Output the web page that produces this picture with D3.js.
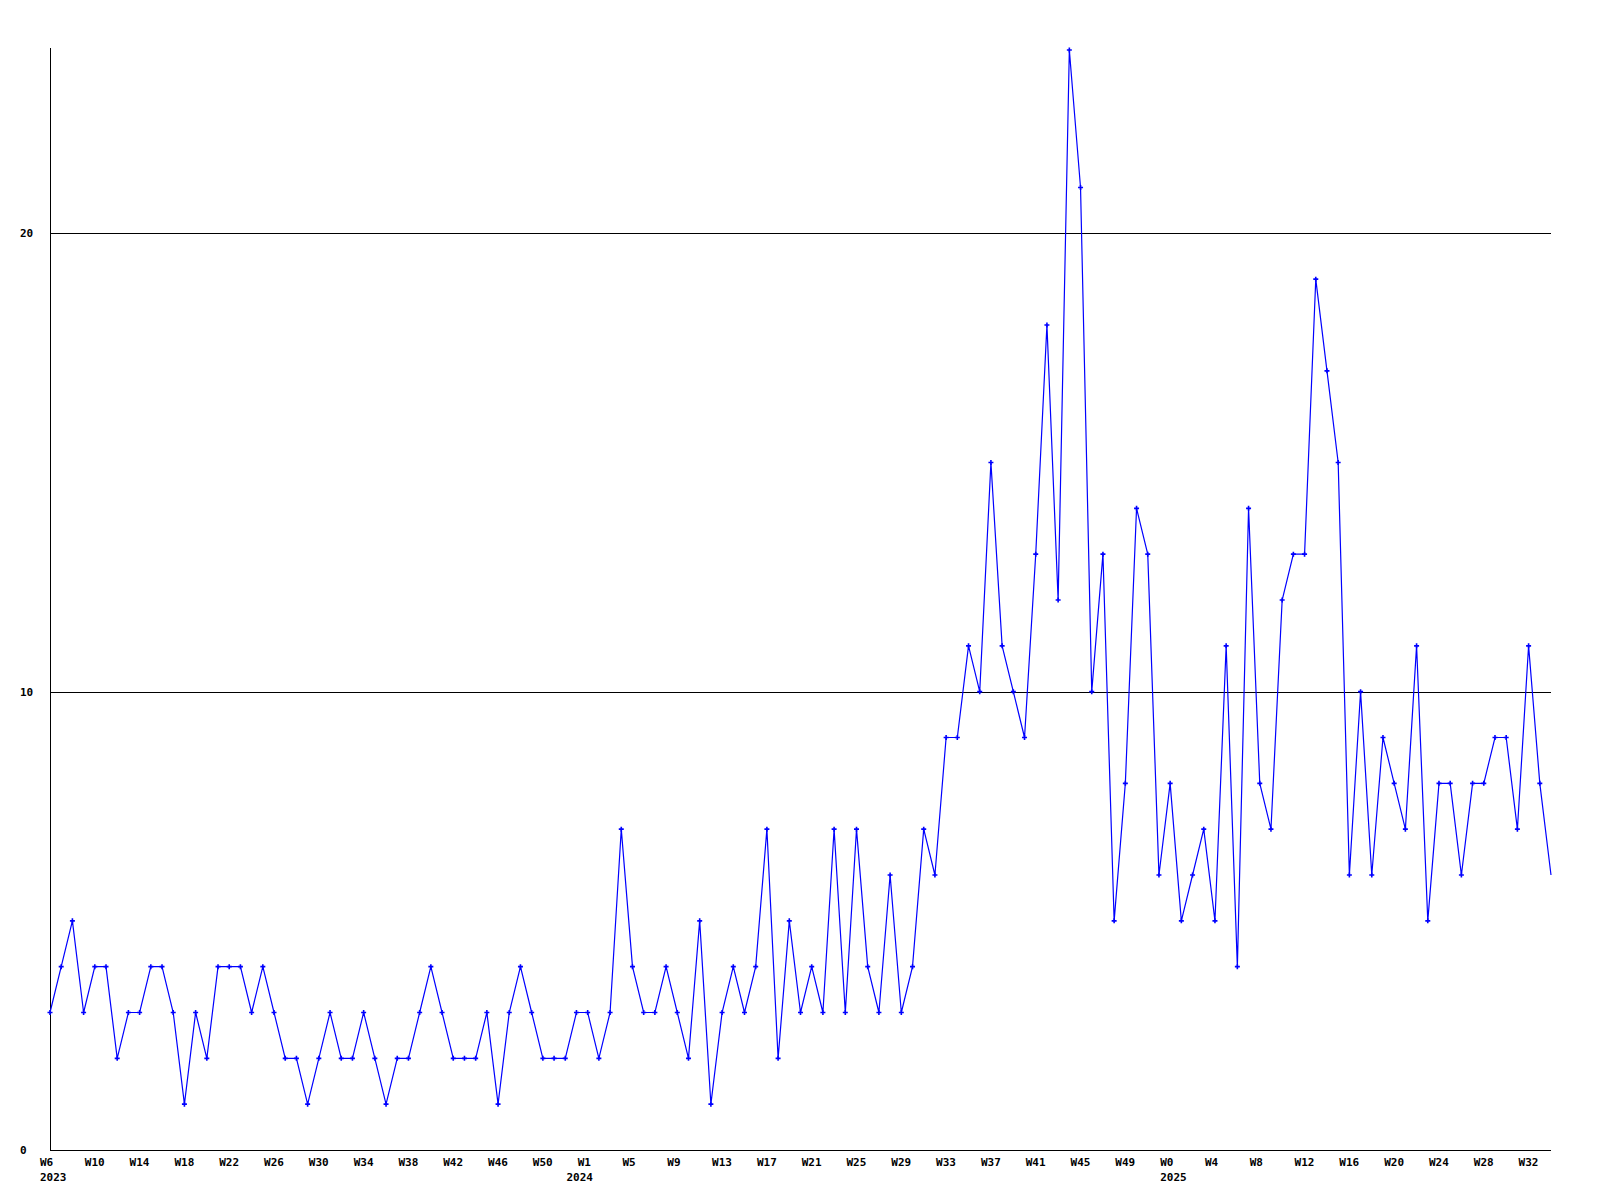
<!DOCTYPE html>
<html>
<head>
<meta charset="utf-8">
<script src="https://cdn.jsdelivr.net/npm/d3@7/dist/d3.min.js"></script>
<style>
  html, body { margin: 0; padding: 0; background: #ffffff; }
  svg { display: block; }
  text { font-family: "DejaVu Sans Mono", "Liberation Mono", monospace; font-weight: bold; font-size: 11px; fill: #000; }
</style>
</head>
<body>
<svg id="chart" width="1600" height="1200"></svg>
<script>
// ---- data ----
const values = [
  3,4,5,3,4,4,2,3,3,4,
  4,3,1,3,2,4,4,4,3,4,
  3,2,2,1,2,3,2,2,3,2,
  1,2,2,3,4,3,2,2,2,3,
  1,3,4,3,2,2,2,3,3,2,
  3,7,4,3,3,4,3,2,5,1,
  3,4,3,4,7,2,5,3,4,3,
  7,3,7,4,3,6,3,4,7,6,
  9,9,11,10,15,11,10,9,13,18,
  12,24,21,10,13,5,8,14,13,6,
  8,5,6,7,5,11,4,14,8,7,
  12,13,13,19,17,15,6,10,6,9,
  8,7,11,5,8,8,6,8,8,9,
  9,7,11,8,6
];
const weekTickLabels = [
  "W6","W10","W14","W18","W22","W26","W30","W34","W38","W42","W46","W50",
  "W1","W5","W9","W13","W17","W21","W25","W29","W33","W37","W41","W45","W49",
  "W0","W4","W8","W12","W16","W20","W24","W28","W32"
];
const tickEvery = 4;
const yearLabels = ["2023","2024","2025"];
const yearIndex = [0, 47, 100];
const yTicks = [0, 10, 20];
const yMax = 24;

(function draw() {
  // ---- layout ----
  const mLeft = 50, mRight = 1551, mTop = 50, mBottom = 1150;
  const svg = d3.select("#chart");

  const x = d3.scaleLinear().domain([0, values.length - 1]).range([mLeft, mRight]);
  const y = d3.scaleLinear().domain([0, yMax]).range([mBottom, mTop]);

  // gridlines (except 0)
  svg.append("g").selectAll("line").data(yTicks.filter(d => d > 0)).join("line")
    .attr("x1", mLeft).attr("x2", mRight)
    .attr("y1", d => Math.round(y(d)) + 0.5).attr("y2", d => Math.round(y(d)) + 0.5)
    .attr("stroke", "#000").attr("stroke-width", 1).attr("shape-rendering", "crispEdges");

  // axes lines
  svg.append("line").attr("x1", mLeft + 0.5).attr("x2", mLeft + 0.5).attr("y1", mTop - 2).attr("y2", mBottom)
    .attr("stroke", "#000").attr("stroke-width", 1).attr("shape-rendering", "crispEdges");
  svg.append("line").attr("x1", mLeft).attr("x2", mRight).attr("y1", mBottom + 0.5).attr("y2", mBottom + 0.5)
    .attr("stroke", "#000").attr("stroke-width", 1).attr("shape-rendering", "crispEdges");

  // y labels
  svg.append("g").selectAll("text").data(yTicks).join("text")
    .attr("x", 20).attr("y", d => y(d) + 4)
    .text(d => d);

  // x week labels
  svg.append("g").selectAll("text").data(weekTickLabels).join("text")
    .attr("x", (d, i) => x(i * tickEvery) - 10)
    .attr("y", mBottom + 16)
    .text(d => d);

  // year labels
  svg.append("g").selectAll("text").data(yearLabels).join("text")
    .attr("x", (d, i) => x(yearIndex[i]) - 10)
    .attr("y", mBottom + 31)
    .text(d => d);

  // line
  const line = d3.line().x((d, i) => x(i)).y(d => y(d));
  svg.append("path").datum(values)
    .attr("d", line)
    .attr("fill", "none").attr("stroke", "#0000ff").attr("stroke-width", 1.2);

  // markers
  svg.append("g").selectAll("path").data(values.slice(0, values.length - 1)).join("path")
    .attr("transform", (d, i) => `translate(${x(i)},${y(d)})`)
    .attr("d", "M-2.5,0H2.5M0,-2.5V2.5")
    .attr("stroke", "#0000ff").attr("stroke-width", 1.6).attr("fill", "none");
})();
</script>
</body>
</html>
